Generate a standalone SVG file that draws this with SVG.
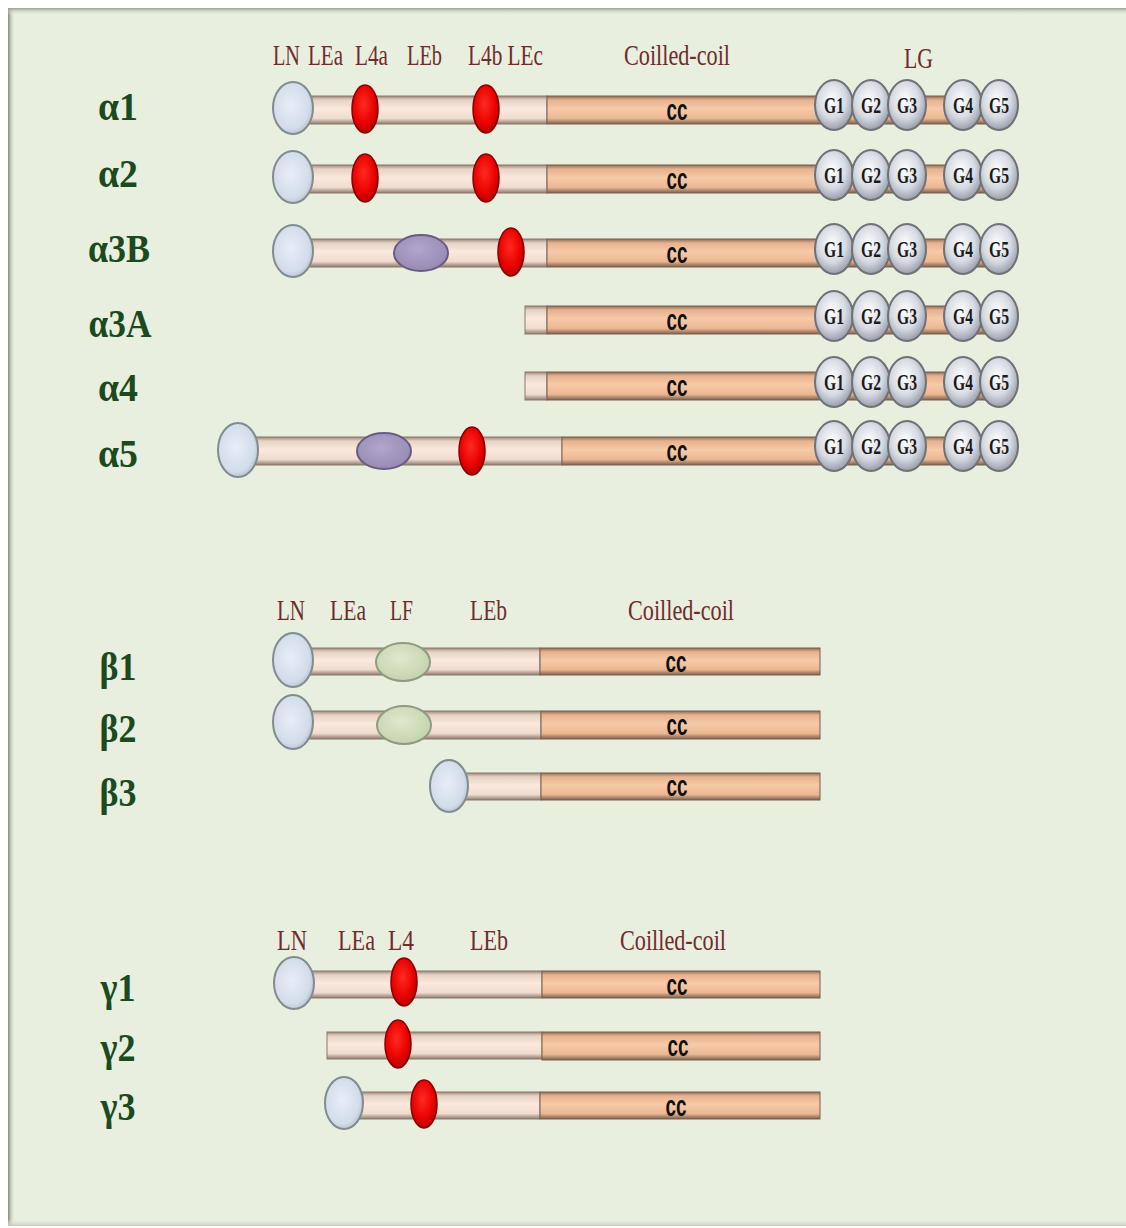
<svg xmlns="http://www.w3.org/2000/svg" width="1126" height="1228" viewBox="0 0 1126 1228">
<defs>
<linearGradient id="thinG" x1="0" y1="0" x2="0" y2="1">
<stop offset="0" stop-color="#9a887c"/><stop offset="0.14" stop-color="#e6d2c4"/><stop offset="0.45" stop-color="#fbe9de"/><stop offset="0.8" stop-color="#f0dcce"/><stop offset="1" stop-color="#8c7a6e"/>
</linearGradient>
<linearGradient id="ccG" x1="0" y1="0" x2="0" y2="1">
<stop offset="0" stop-color="#8a6c58"/><stop offset="0.14" stop-color="#e6b18e"/><stop offset="0.45" stop-color="#f7caa8"/><stop offset="0.8" stop-color="#ebb793"/><stop offset="1" stop-color="#7c604e"/>
</linearGradient>
<radialGradient id="lnG" cx="0.45" cy="0.45" r="0.6">
<stop offset="0" stop-color="#e8eef8"/><stop offset="0.75" stop-color="#d3dcea"/><stop offset="1" stop-color="#b4bfcc"/>
</radialGradient>
<radialGradient id="redG" cx="0.45" cy="0.4" r="0.6">
<stop offset="0" stop-color="#ff2a20"/><stop offset="0.7" stop-color="#e80000"/><stop offset="1" stop-color="#b00000"/>
</radialGradient>
<radialGradient id="purG" cx="0.45" cy="0.4" r="0.6">
<stop offset="0" stop-color="#b2a6cc"/><stop offset="1" stop-color="#988ab4"/>
</radialGradient>
<radialGradient id="grnG" cx="0.45" cy="0.4" r="0.6">
<stop offset="0" stop-color="#dfe8cc"/><stop offset="1" stop-color="#c6d3ae"/>
</radialGradient>
<radialGradient id="gG" cx="0.45" cy="0.4" r="0.6">
<stop offset="0" stop-color="#ffffff"/><stop offset="0.6" stop-color="#d6dae2"/><stop offset="1" stop-color="#9a9eaa"/>
</radialGradient>
<linearGradient id="leftSh" x1="0" y1="0" x2="1" y2="0">
<stop offset="0" stop-color="#7e8676"/><stop offset="1" stop-color="#e9efdf" stop-opacity="0"/>
</linearGradient>
<linearGradient id="topSh" x1="0" y1="0" x2="0" y2="1">
<stop offset="0" stop-color="#9aa092"/><stop offset="1" stop-color="#e9efdf" stop-opacity="0"/>
</linearGradient>
<linearGradient id="botSh" x1="0" y1="0" x2="0" y2="1">
<stop offset="0" stop-color="#e9efdf" stop-opacity="0"/><stop offset="1" stop-color="#c6ccbc"/>
</linearGradient>
</defs>
<style>
.thin{fill:url(#thinG);stroke:#8a786c;stroke-width:1}
.cc{fill:url(#ccG);stroke:#7a5e4c;stroke-width:1}
.ln{fill:url(#lnG);stroke:#808c90;stroke-width:2}
.red{fill:url(#redG);stroke:#8a0000;stroke-width:1.5}
.pur{fill:url(#purG);stroke:#675d80;stroke-width:2}
.grn{fill:url(#grnG);stroke:#8c9c80;stroke-width:2}
.g{fill:url(#gG);stroke:#6e7276;stroke-width:2}
.gt{font-family:"Liberation Serif",serif;font-weight:bold;font-size:23px;fill:#1a1a1a;text-anchor:middle}
.cct{font-family:"Liberation Sans",sans-serif;font-weight:bold;font-size:30px;fill:#111;text-anchor:middle}
.hd{font-family:"Liberation Serif",serif;font-size:29px;fill:#6e2c2c}
.gk{font-family:"Liberation Serif",serif;font-weight:bold;font-size:39px;fill:#1b4a1e;text-anchor:middle}
</style>
<rect x="0" y="0" width="1126" height="1228" fill="#ffffff"/>
<rect x="8" y="8" width="1118" height="1218" fill="#e9efdf"/>
<rect x="8" y="8" width="7" height="1218" fill="url(#leftSh)"/>
<rect x="8" y="8" width="1118" height="7" fill="url(#topSh)"/>
<rect x="8" y="1219" width="1118" height="7" fill="url(#botSh)"/>

<g id="headers">
<text class="hd" x="273" y="65" textLength="27" lengthAdjust="spacingAndGlyphs">LN</text>
<text class="hd" x="308" y="65" textLength="35" lengthAdjust="spacingAndGlyphs">LEa</text>
<text class="hd" x="355" y="65" textLength="33" lengthAdjust="spacingAndGlyphs">L4a</text>
<text class="hd" x="407" y="65" textLength="35" lengthAdjust="spacingAndGlyphs">LEb</text>
<text class="hd" x="468" y="65" textLength="75" lengthAdjust="spacingAndGlyphs">L4b LEc</text>
<text class="hd" x="624" y="65" textLength="106" lengthAdjust="spacingAndGlyphs">Coilled-coil</text>
<text class="hd" x="904" y="68" textLength="29" lengthAdjust="spacingAndGlyphs">LG</text>
<text class="hd" x="277" y="620" textLength="28" lengthAdjust="spacingAndGlyphs">LN</text>
<text class="hd" x="330" y="620" textLength="36" lengthAdjust="spacingAndGlyphs">LEa</text>
<text class="hd" x="390" y="620" textLength="23" lengthAdjust="spacingAndGlyphs">LF</text>
<text class="hd" x="470" y="620" textLength="37" lengthAdjust="spacingAndGlyphs">LEb</text>
<text class="hd" x="628" y="620" textLength="106" lengthAdjust="spacingAndGlyphs">Coilled-coil</text>
<text class="hd" x="277" y="950" textLength="30" lengthAdjust="spacingAndGlyphs">LN</text>
<text class="hd" x="338" y="950" textLength="37" lengthAdjust="spacingAndGlyphs">LEa</text>
<text class="hd" x="388" y="950" textLength="26" lengthAdjust="spacingAndGlyphs">L4</text>
<text class="hd" x="470" y="950" textLength="38" lengthAdjust="spacingAndGlyphs">LEb</text>
<text class="hd" x="620" y="950" textLength="106" lengthAdjust="spacingAndGlyphs">Coilled-coil</text>
</g>

<g id="labels">
<text class="gk" x="118" y="120" textLength="40" lengthAdjust="spacingAndGlyphs">α1</text>
<text class="gk" x="118" y="187" textLength="40" lengthAdjust="spacingAndGlyphs">α2</text>
<text class="gk" x="119" y="262" textLength="62" lengthAdjust="spacingAndGlyphs">α3B</text>
<text class="gk" x="120" y="337" textLength="63" lengthAdjust="spacingAndGlyphs">α3A</text>
<text class="gk" x="118" y="401" textLength="40" lengthAdjust="spacingAndGlyphs">α4</text>
<text class="gk" x="118" y="467" textLength="40" lengthAdjust="spacingAndGlyphs">α5</text>
<text class="gk" x="118" y="680" textLength="37" lengthAdjust="spacingAndGlyphs">β1</text>
<text class="gk" x="118" y="742" textLength="37" lengthAdjust="spacingAndGlyphs">β2</text>
<text class="gk" x="118" y="806" textLength="37" lengthAdjust="spacingAndGlyphs">β3</text>
<text class="gk" x="118" y="1001" textLength="35" lengthAdjust="spacingAndGlyphs">γ1</text>
<text class="gk" x="118" y="1061" textLength="35" lengthAdjust="spacingAndGlyphs">γ2</text>
<text class="gk" x="118" y="1120" textLength="35" lengthAdjust="spacingAndGlyphs">γ3</text>
</g>

<g id="connectors"></g>

<g id="a1">
<rect class="thin" x="293" y="96" width="254" height="28"/>
<rect class="cc" x="547" y="96" width="443" height="28"/>
<ellipse class="ln" cx="293" cy="108" rx="20" ry="26"/>
<ellipse class="red" cx="365" cy="109" rx="13" ry="24"/>
<ellipse class="red" cx="486" cy="109" rx="13" ry="24"/>
<text class="cct" x="677" y="120" textLength="21" lengthAdjust="spacingAndGlyphs">cc</text>
<ellipse class="g" cx="834" cy="105" rx="19" ry="25"/><ellipse class="g" cx="871" cy="105" rx="19" ry="25"/><ellipse class="g" cx="907" cy="105" rx="19" ry="25"/><ellipse class="g" cx="963" cy="105" rx="19" ry="25"/><ellipse class="g" cx="999" cy="105" rx="19" ry="25"/>
<text class="gt" x="834" y="113" textLength="20" lengthAdjust="spacingAndGlyphs">G1</text><text class="gt" x="871" y="113" textLength="20" lengthAdjust="spacingAndGlyphs">G2</text><text class="gt" x="907" y="113" textLength="20" lengthAdjust="spacingAndGlyphs">G3</text><text class="gt" x="963" y="113" textLength="20" lengthAdjust="spacingAndGlyphs">G4</text><text class="gt" x="999" y="113" textLength="20" lengthAdjust="spacingAndGlyphs">G5</text>
</g>

<g id="a2">
<rect class="thin" x="293" y="165" width="254" height="28"/>
<rect class="cc" x="547" y="165" width="443" height="28"/>
<ellipse class="ln" cx="293" cy="177" rx="20" ry="26"/>
<ellipse class="red" cx="365" cy="178" rx="13" ry="24"/>
<ellipse class="red" cx="486" cy="178" rx="13" ry="24"/>
<text class="cct" x="677" y="189" textLength="21" lengthAdjust="spacingAndGlyphs">cc</text>
<ellipse class="g" cx="834" cy="175" rx="19" ry="25"/><ellipse class="g" cx="871" cy="175" rx="19" ry="25"/><ellipse class="g" cx="907" cy="175" rx="19" ry="25"/><ellipse class="g" cx="963" cy="175" rx="19" ry="25"/><ellipse class="g" cx="999" cy="175" rx="19" ry="25"/>
<text class="gt" x="834" y="183" textLength="20" lengthAdjust="spacingAndGlyphs">G1</text><text class="gt" x="871" y="183" textLength="20" lengthAdjust="spacingAndGlyphs">G2</text><text class="gt" x="907" y="183" textLength="20" lengthAdjust="spacingAndGlyphs">G3</text><text class="gt" x="963" y="183" textLength="20" lengthAdjust="spacingAndGlyphs">G4</text><text class="gt" x="999" y="183" textLength="20" lengthAdjust="spacingAndGlyphs">G5</text>
</g>

<g id="a3B">
<rect class="thin" x="293" y="239" width="254" height="28"/>
<rect class="cc" x="547" y="239" width="443" height="28"/>
<ellipse class="ln" cx="293" cy="251" rx="20" ry="26"/>
<ellipse class="pur" cx="421" cy="253" rx="27" ry="18"/>
<ellipse class="red" cx="511" cy="252" rx="13" ry="24"/>
<text class="cct" x="677" y="263" textLength="21" lengthAdjust="spacingAndGlyphs">cc</text>
<ellipse class="g" cx="834" cy="249" rx="19" ry="25"/><ellipse class="g" cx="871" cy="249" rx="19" ry="25"/><ellipse class="g" cx="907" cy="249" rx="19" ry="25"/><ellipse class="g" cx="963" cy="249" rx="19" ry="25"/><ellipse class="g" cx="999" cy="249" rx="19" ry="25"/>
<text class="gt" x="834" y="257" textLength="20" lengthAdjust="spacingAndGlyphs">G1</text><text class="gt" x="871" y="257" textLength="20" lengthAdjust="spacingAndGlyphs">G2</text><text class="gt" x="907" y="257" textLength="20" lengthAdjust="spacingAndGlyphs">G3</text><text class="gt" x="963" y="257" textLength="20" lengthAdjust="spacingAndGlyphs">G4</text><text class="gt" x="999" y="257" textLength="20" lengthAdjust="spacingAndGlyphs">G5</text>
</g>

<g id="a3A">
<rect class="thin" x="525" y="306" width="22" height="28"/>
<rect class="cc" x="547" y="306" width="443" height="28"/>
<text class="cct" x="677" y="330" textLength="21" lengthAdjust="spacingAndGlyphs">cc</text>
<ellipse class="g" cx="834" cy="316" rx="19" ry="25"/><ellipse class="g" cx="871" cy="316" rx="19" ry="25"/><ellipse class="g" cx="907" cy="316" rx="19" ry="25"/><ellipse class="g" cx="963" cy="316" rx="19" ry="25"/><ellipse class="g" cx="999" cy="316" rx="19" ry="25"/>
<text class="gt" x="834" y="324" textLength="20" lengthAdjust="spacingAndGlyphs">G1</text><text class="gt" x="871" y="324" textLength="20" lengthAdjust="spacingAndGlyphs">G2</text><text class="gt" x="907" y="324" textLength="20" lengthAdjust="spacingAndGlyphs">G3</text><text class="gt" x="963" y="324" textLength="20" lengthAdjust="spacingAndGlyphs">G4</text><text class="gt" x="999" y="324" textLength="20" lengthAdjust="spacingAndGlyphs">G5</text>
</g>

<g id="a4">
<rect class="thin" x="525" y="372" width="22" height="28"/>
<rect class="cc" x="547" y="372" width="443" height="28"/>
<text class="cct" x="677" y="396" textLength="21" lengthAdjust="spacingAndGlyphs">cc</text>
<ellipse class="g" cx="834" cy="382" rx="19" ry="25"/><ellipse class="g" cx="871" cy="382" rx="19" ry="25"/><ellipse class="g" cx="907" cy="382" rx="19" ry="25"/><ellipse class="g" cx="963" cy="382" rx="19" ry="25"/><ellipse class="g" cx="999" cy="382" rx="19" ry="25"/>
<text class="gt" x="834" y="390" textLength="20" lengthAdjust="spacingAndGlyphs">G1</text><text class="gt" x="871" y="390" textLength="20" lengthAdjust="spacingAndGlyphs">G2</text><text class="gt" x="907" y="390" textLength="20" lengthAdjust="spacingAndGlyphs">G3</text><text class="gt" x="963" y="390" textLength="20" lengthAdjust="spacingAndGlyphs">G4</text><text class="gt" x="999" y="390" textLength="20" lengthAdjust="spacingAndGlyphs">G5</text>
</g>

<g id="a5">
<rect class="thin" x="238" y="437" width="324" height="28"/>
<rect class="cc" x="562" y="437" width="428" height="28"/>
<ellipse class="ln" cx="238" cy="450" rx="20" ry="27"/>
<ellipse class="pur" cx="384" cy="451" rx="27" ry="18"/>
<ellipse class="red" cx="472" cy="451" rx="13" ry="24"/>
<text class="cct" x="677" y="461" textLength="21" lengthAdjust="spacingAndGlyphs">cc</text>
<ellipse class="g" cx="834" cy="446" rx="19" ry="25"/><ellipse class="g" cx="871" cy="446" rx="19" ry="25"/><ellipse class="g" cx="907" cy="446" rx="19" ry="25"/><ellipse class="g" cx="963" cy="446" rx="19" ry="25"/><ellipse class="g" cx="999" cy="446" rx="19" ry="25"/>
<text class="gt" x="834" y="454" textLength="20" lengthAdjust="spacingAndGlyphs">G1</text><text class="gt" x="871" y="454" textLength="20" lengthAdjust="spacingAndGlyphs">G2</text><text class="gt" x="907" y="454" textLength="20" lengthAdjust="spacingAndGlyphs">G3</text><text class="gt" x="963" y="454" textLength="20" lengthAdjust="spacingAndGlyphs">G4</text><text class="gt" x="999" y="454" textLength="20" lengthAdjust="spacingAndGlyphs">G5</text>
</g>

<g id="b1">
<rect class="thin" x="293" y="648" width="247" height="27"/>
<rect class="cc" x="540" y="648" width="280" height="27"/>
<ellipse class="ln" cx="293" cy="660" rx="20" ry="27"/>
<ellipse class="grn" cx="403" cy="662" rx="27" ry="19"/>
<text class="cct" x="676" y="672" textLength="21" lengthAdjust="spacingAndGlyphs">cc</text>
</g>

<g id="b2">
<rect class="thin" x="293" y="711" width="248" height="28"/>
<rect class="cc" x="541" y="711" width="279" height="28"/>
<ellipse class="ln" cx="293" cy="722" rx="20" ry="27"/>
<ellipse class="grn" cx="404" cy="725" rx="27" ry="19"/>
<text class="cct" x="677" y="735" textLength="21" lengthAdjust="spacingAndGlyphs">cc</text>
</g>

<g id="b3">
<rect class="thin" x="449" y="773" width="92" height="27"/>
<rect class="cc" x="541" y="773" width="279" height="27"/>
<ellipse class="ln" cx="449" cy="786" rx="19" ry="26"/>
<text class="cct" x="677" y="796" textLength="21" lengthAdjust="spacingAndGlyphs">cc</text>
</g>

<g id="g1">
<rect class="thin" x="294" y="971" width="248" height="27"/>
<rect class="cc" x="542" y="971" width="278" height="27"/>
<ellipse class="ln" cx="294" cy="983" rx="20" ry="26"/>
<ellipse class="red" cx="404" cy="982" rx="13" ry="24"/>
<text class="cct" x="677" y="995" textLength="21" lengthAdjust="spacingAndGlyphs">cc</text>
</g>

<g id="g2">
<rect class="thin" x="327" y="1032" width="215" height="27"/>
<rect class="cc" x="542" y="1032" width="278" height="28"/>
<ellipse class="red" cx="398" cy="1044" rx="13" ry="24"/>
<text class="cct" x="678" y="1056" textLength="21" lengthAdjust="spacingAndGlyphs">cc</text>
</g>

<g id="g3">
<rect class="thin" x="344" y="1092" width="196" height="27"/>
<rect class="cc" x="540" y="1092" width="280" height="27"/>
<ellipse class="ln" cx="344" cy="1103" rx="19" ry="26"/>
<ellipse class="red" cx="424" cy="1104" rx="13" ry="24"/>
<text class="cct" x="676" y="1116" textLength="21" lengthAdjust="spacingAndGlyphs">cc</text>
</g>
</svg>
